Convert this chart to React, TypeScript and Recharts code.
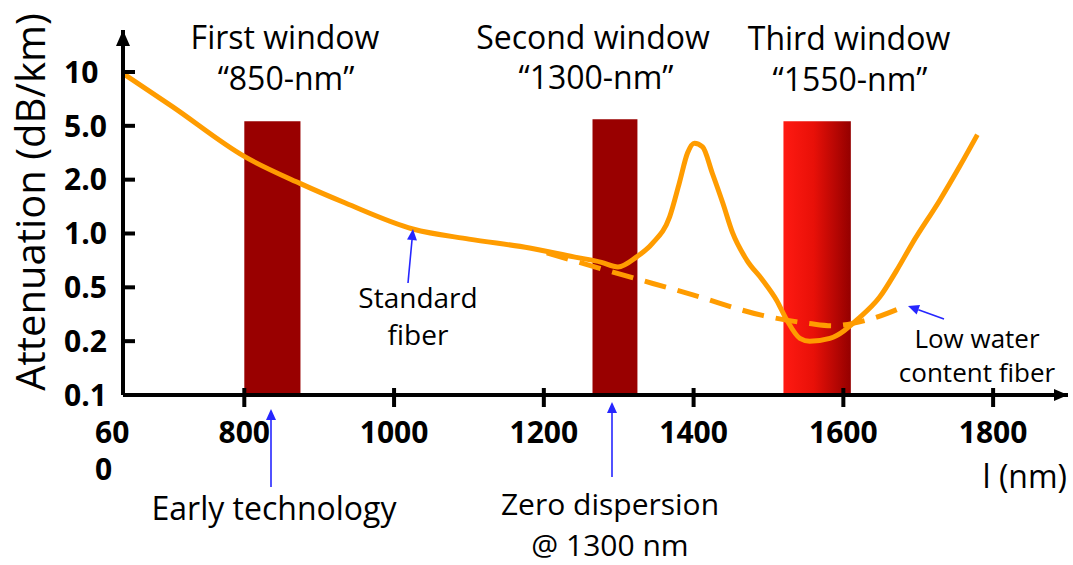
import React from "react";
import { LineChart, Line, XAxis, YAxis, ReferenceArea, ReferenceDot } from "recharts";

// y axis is drawn with equally spaced labelled levels (not a true log scale)
const Y_TICKS = [0.1, 0.2, 0.5, 1, 2, 5, 10];
const Y_LABELS = ["0.1", "0.2", "0.5", "1.0", "2.0", "5.0", "10"];
const X_TICKS = [800, 1000, 1200, 1400, 1600, 1800];
const X_MIN = 638;
const X_MAX = 1900;
const Y_TOP = 6.78;

// standard fiber (solid)
const STD_NM = [638, 704, 800, 875, 935, 1025, 1100, 1181, 1240, 1277, 1299, 1324, 1345, 1368, 1381, 1392, 1401, 1412, 1425, 1439, 1452, 1471, 1492, 1511, 1524, 1542, 1555, 1582, 1622, 1648, 1671, 1692, 1729, 1755, 1779];
const STD_DB = [9.8, 6.4, 2.97, 1.9, 1.48, 1.06, 0.93, 0.83, 0.74, 0.69, 0.65, 0.74, 0.88, 1.24, 1.92, 3.16, 3.72, 3.49, 2.23, 1.48, 1.01, 0.71, 0.55, 0.4, 0.29, 0.21, 0.2, 0.21, 0.3, 0.42, 0.62, 0.88, 1.54, 2.49, 4.3];

// low water content fiber (dashed)
const LW_NM = [1204, 1297, 1399, 1492, 1555, 1585, 1635, 1686];
const LW_DB = [0.78, 0.6, 0.44, 0.31, 0.27, 0.26, 0.29, 0.37];

// transmission windows
const WIN_FROM = [800, 1265, 1520];
const WIN_TO = [875, 1325, 1610];
const WIN_TOP = [5.3, 5.45, 5.3];
const WIN_FILL = ["#990000", "#990000", "url(#win3)"];

const ORANGE = "#ff9c00";
const BLUE = "#2626ff";
const FONT = "'Open Sans', sans-serif";

function toLevel(v: number) {
  for (let i = 0; i < Y_TICKS.length - 1; i++) {
    const a = Y_TICKS[i];
    const b = Y_TICKS[i + 1];
    if (v <= b || i === Y_TICKS.length - 2) return i + Math.log(v / a) / Math.log(b / a);
  }
  return 0;
}

function XTick(props: any) {
  const { x, y, payload } = props;
  if (payload.value === X_MIN) {
    return (
      <g fontFamily={FONT} fontWeight={700} fontSize={30} fill="#000">
        <text x={x - 28} y={y + 48}>60</text>
        <text x={x - 28} y={y + 85}>0</text>
      </g>
    );
  }
  return (
    <g>
      <line x1={x} x2={x} y1={y - 7} y2={y + 12} stroke="#000" strokeWidth={4} />
      <text x={x} y={y + 48} textAnchor="middle" fontFamily={FONT} fontWeight={700} fontSize={30} fill="#000">
        {payload.value}
      </text>
    </g>
  );
}

function YTick(props: any) {
  const { x, y, payload } = props;
  const i = payload.value;
  return (
    <g>
      {i > 0 && <line x1={x} x2={x + 12} y1={y} y2={y} stroke="#000" strokeWidth={4} />}
      <text x={x - 59} y={y} dy="0.36em" textAnchor="start" fontFamily={FONT} fontWeight={700} fontSize={30} fill="#000">
        {Y_LABELS[i]}
      </text>
    </g>
  );
}

const UpArrow = (p: any) => (
  <path d={`M${p.cx},${p.cy} L${p.cx - 7},${p.cy + 16} L${p.cx + 7},${p.cy + 16} Z`} fill="#000" />
);
const RightArrow = (p: any) => (
  <path d={`M${p.cx},${p.cy} L${p.cx - 14},${p.cy - 6} L${p.cx - 14},${p.cy + 6} Z`} fill="#000" />
);

function Arrow({ x1, y1, x2, y2 }: { x1: number; y1: number; x2: number; y2: number }) {
  const a = Math.atan2(y2 - y1, x2 - x1);
  const L = 11;
  const W = 5;
  const bx = x2 - L * Math.cos(a);
  const by = y2 - L * Math.sin(a);
  const px = -Math.sin(a) * W;
  const py = Math.cos(a) * W;
  return (
    <g>
      <line x1={x1} y1={y1} x2={bx} y2={by} stroke={BLUE} strokeWidth={1.6} />
      <path d={`M${x2},${y2} L${bx + px},${by + py} L${bx - px},${by - py} Z`} fill={BLUE} />
    </g>
  );
}

export default function App() {
  const std = STD_NM.map((nm, i) => ({ nm, lvl: toLevel(STD_DB[i]) }));
  const lw = LW_NM.map((nm, i) => ({ nm, lvl: toLevel(LW_DB[i]) }));

  return (
    <div
      style={{
        position: "fixed",
        left: 0,
        top: 0,
        width: 1073,
        height: 565,
        overflow: "hidden",
        background: "#fff",
      }}
    >
      <LineChart width={1073} height={565} margin={{ top: 30, right: 5, bottom: 110, left: 63 }}>
        <defs>
          <linearGradient id="win3" x1="0" y1="0" x2="1" y2="0">
            <stop offset="0%" stopColor="#ff1a12" />
            <stop offset="45%" stopColor="#e81008" />
            <stop offset="100%" stopColor="#940000" />
          </linearGradient>
        </defs>
        <XAxis
          type="number"
          dataKey="nm"
          domain={[X_MIN, X_MAX]}
          ticks={[X_MIN, ...X_TICKS]}
          interval={0}
          allowDataOverflow
          height={60}
          tickLine={false}
          tickSize={0}
          tickMargin={0}
          axisLine={{ stroke: "#000", strokeWidth: 4 }}
          tick={(p: any) => <XTick {...p} />}
        />
        <YAxis
          type="number"
          domain={[0, Y_TOP]}
          ticks={Y_TICKS.map((_, i) => i)}
          interval={0}
          allowDataOverflow
          width={60}
          tickLine={false}
          tickSize={0}
          tickMargin={0}
          axisLine={{ stroke: "#000", strokeWidth: 4 }}
          tick={(p: any) => <YTick {...p} />}
        />
        {WIN_FROM.map((x1, i) => (
          <ReferenceArea
            key={i}
            x1={x1}
            x2={WIN_TO[i]}
            y1={0}
            y2={toLevel(WIN_TOP[i])}
            fill={WIN_FILL[i]}
            fillOpacity={1}
            stroke="none"
            ifOverflow="visible"
          />
        ))}
        <Line
          data={std}
          dataKey="lvl"
          type="monotone"
          stroke={ORANGE}
          strokeWidth={5}
          dot={false}
          activeDot={false}
          isAnimationActive={false}
        />
        <Line
          data={lw}
          dataKey="lvl"
          type="monotone"
          stroke={ORANGE}
          strokeWidth={5}
          strokeDasharray="22 12"
          dot={false}
          activeDot={false}
          isAnimationActive={false}
        />
        <ReferenceDot x={X_MIN} y={Y_TOP} r={0} ifOverflow="visible" shape={UpArrow} />
        <ReferenceDot x={X_MAX} y={0} r={0} ifOverflow="visible" shape={RightArrow} />
      </LineChart>

      <svg
        width={1073}
        height={565}
        style={{ position: "absolute", left: 0, top: 0, pointerEvents: "none" }}
        fontFamily={FONT}
        fill="#000"
      >
        <text x={45} y={202} fontSize={40} textAnchor="middle" transform="rotate(-90 45 202)">
          Attenuation (dB/km)
        </text>

        <g fontSize={32} textAnchor="middle">
          <text x={285} y={49}>First window</text>
          <text x={286} y={90}>“850-nm”</text>
          <text x={593} y={49}>Second window</text>
          <text x={596} y={89}>“1300-nm”</text>
          <text x={849} y={50}>Third window</text>
          <text x={850} y={91}>“1550-nm”</text>
          <text x={274} y={520}>Early technology</text>
        </g>
        <g fontSize={30} textAnchor="middle">
          <text x={610} y={515}>Zero dispersion</text>
          <text x={610} y={556}>@ 1300 nm</text>
        </g>
        <text x={1067} y={488} fontSize={32} textAnchor="end">l (nm)</text>

        <g fontSize={28} textAnchor="middle">
          <text x={418} y={308}>Standard</text>
          <text x={418} y={345}>fiber</text>
        </g>
        <g fontSize={26} textAnchor="middle">
          <text x={977} y={348}>Low water</text>
          <text x={977} y={382}>content fiber</text>
        </g>

        <Arrow x1={408} y1={283} x2={413} y2={229} />
        <Arrow x1={271} y1={487} x2={271} y2={409} />
        <Arrow x1={612} y1={477} x2={612} y2={402} />
        <Arrow x1={944} y1={319} x2={908} y2={306} />
      </svg>
    </div>
  );
}
